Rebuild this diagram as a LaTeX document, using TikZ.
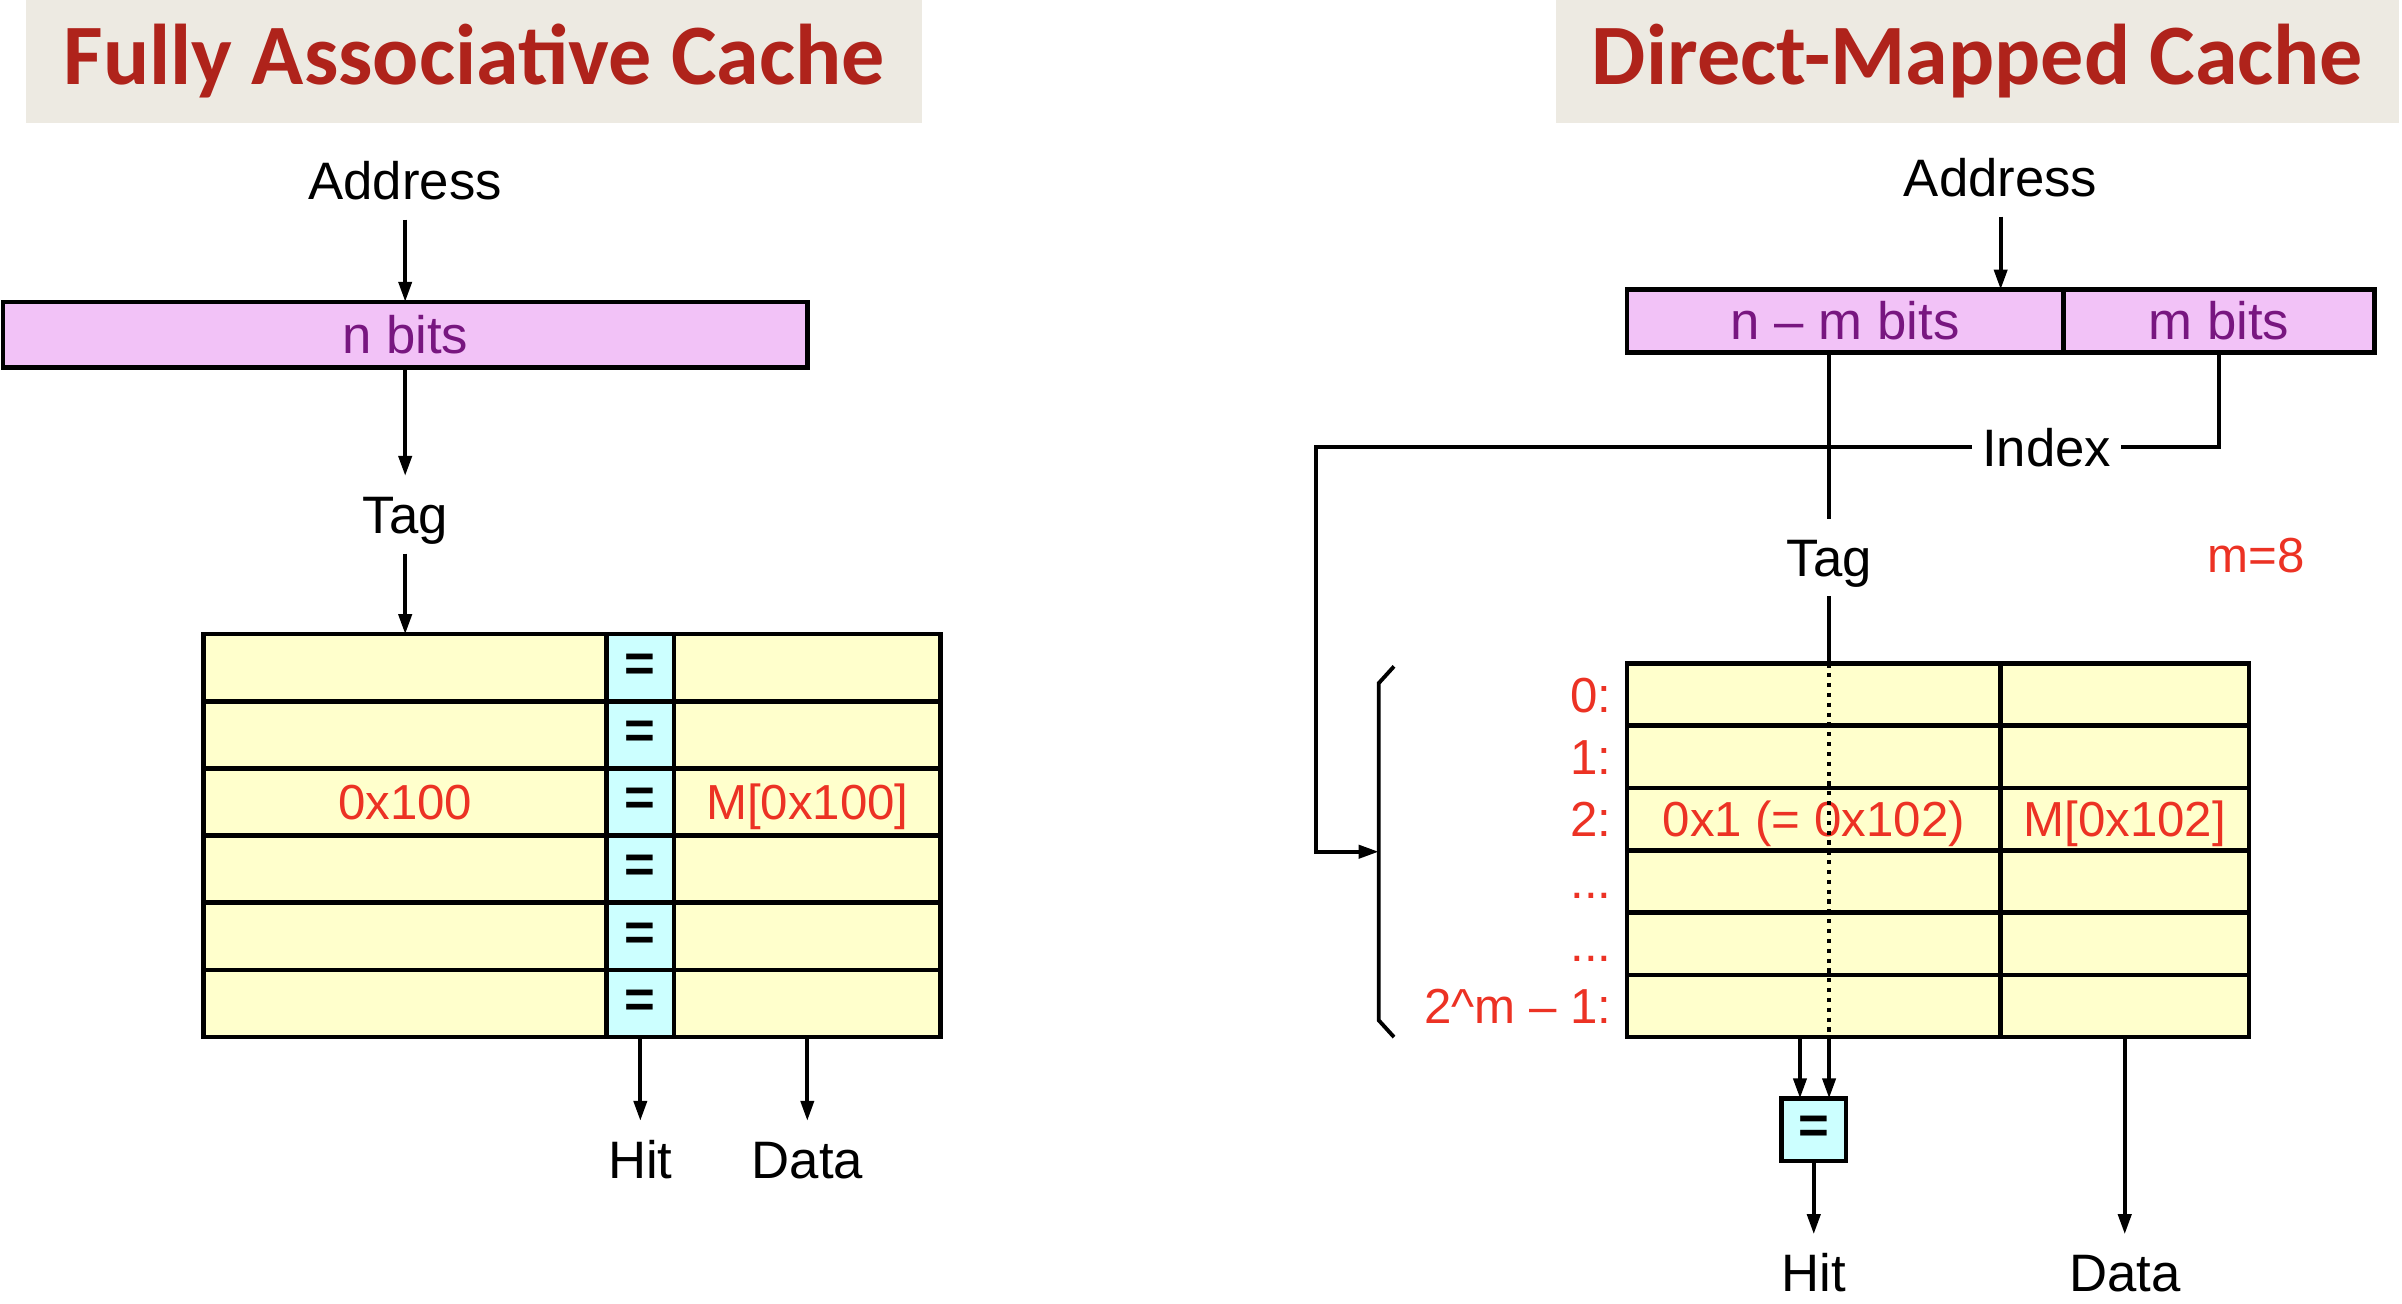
\documentclass[tikz,border=0pt]{standalone}
\usepackage{fontspec}
\setmainfont{Liberation Sans}
\newfontfamily\titlefont{Carlito}
\usepackage{tikz}
\usetikzlibrary{arrows.meta}

\definecolor{titlebg}{RGB}{237,234,226}
\definecolor{titlered}{RGB}{175,35,27}
\definecolor{fieldpink}{RGB}{242,194,247}
\definecolor{fieldtext}{RGB}{120,22,128}
\definecolor{lineyellow}{RGB}{255,255,204}
\definecolor{cmpcyan}{RGB}{204,255,255}
\definecolor{valred}{RGB}{236,50,36}
\def\pxu{0.1532mm}
\def\rowdots{...}

\begin{document}
\begin{tikzpicture}[x=0.1532mm, y=-0.1532mm,
  every node/.style={font=\fontsize{15}{18}\selectfont, inner sep=0pt, outer sep=0pt},
  lbl/.style={text height=10.7pt, text depth=0pt, inner sep=2mm},
  headbox/.style={fill=titlebg, text=titlered, font=\titlefont\bfseries\fontsize{24.5}{28}\selectfont, minimum height=80*\pxu, anchor=north west},
  field/.style={draw, line width=1.3pt, fill=fieldpink, text=fieldtext, text height=10.7pt, text depth=0pt},
  cell/.style={draw, line width=1.3pt, fill=lineyellow, anchor=north west},
  eqcell/.style={cell, fill=cmpcyan},
  valtext/.style={text=valred, font=\fontsize{14}{17}\selectfont, text height=10pt, text depth=0pt},
  arr/.style={-{Triangle[length=2mm,width=1.3mm]}, line width=1.1pt},
  wire/.style={line width=1.1pt}]

  % Page frame
  \useasboundingbox (0,0) rectangle (1568,851);

  % Titles
  \node[headbox, minimum width=585*\pxu] (ttlfa) at (17,0) {Fully Associative Cache};
  \node[headbox, minimum width=550*\pxu] (ttldm) at (1016,0) {Direct-Mapped Cache};

  %% Fully associative cache
  \node[lbl] (addrfa) at (264.5,118) {Address};
  \node[field, minimum width=525*\pxu, minimum height=43*\pxu] (nbits) at (264.5,218.5) {n bits};
  \node[lbl] (tagfa) at (264.5,336) {Tag};

  % cache lines: tag | = | data
  \foreach \i in {1,...,6} {
    \node[cell, minimum width=263*\pxu, minimum height=43.83*\pxu] (fatag\i) at (133,{414+43.83*(\i-1)}) {};
    \node[eqcell, minimum width=44*\pxu, minimum height=43.83*\pxu] (faeq\i) at (396,{414+43.83*(\i-1)}) {\textbf{=}};
    \node[cell, minimum width=174*\pxu, minimum height=43.83*\pxu] (fadat\i) at (440,{414+43.83*(\i-1)}) {};
  }
  \node[valtext] (faval) at (fatag3) {0x100};
  \node[valtext] (famem) at (fadat3) {M[0x100]};

  \node[lbl] (hitfa) at (418,757) {Hit};
  \node[lbl] (datafa) at (527,757) {Data};

  % wiring
  \draw[arr] (addrfa.south) -- (nbits.north);
  \draw[arr] (nbits.south) -- (tagfa.north);
  \draw[arr] (tagfa.south) -- (fatag1.north);
  \draw[arr] (faeq6.south) -- (hitfa.north);
  \draw[arr] (fadat6.south) -- (datafa.north);

  %% Direct-mapped cache
  \node[lbl] (addrdm) at (1306,116) {Address};
  \node[field, minimum width=285*\pxu, minimum height=41*\pxu] (nmbits) at (1204.5,209.5) {n – m bits};
  \node[field, minimum width=203*\pxu, minimum height=41*\pxu] (mbits) at (1448.5,209.5) {m bits};
  \node[lbl, inner xsep=1mm] (idx) at (1336,292) {Index};
  \node[lbl] (tagdm) at (1194,364) {Tag};
  \node[valtext] (mval) at (1473,362) {m=8};

  % cache lines: tag | data, with line numbers
  \foreach \i/\lab in {1/0:, 2/1:, 3/2:, 4/\rowdots, 5/\rowdots, 6/2\textasciicircum m – 1:} {
    \node[cell, minimum width=244*\pxu, minimum height=40.67*\pxu] (dmtag\i) at (1062,{433+40.67*(\i-1)}) {};
    \node[cell, minimum width=162*\pxu, minimum height=40.67*\pxu] (dmdat\i) at (1306,{433+40.67*(\i-1)}) {};
    \node[valtext, anchor=east] (dmrow\i) at ([xshift=-10*\pxu]dmtag\i.west) {\lab};
  }
  \node[valtext] (dmval) at (dmtag3) {0x1 (= 0x102)};
  \node[valtext] (dmmem) at (dmdat3) {M[0x102]};

  % brace over the line numbers
  \draw[wire] (910,435) -- (900,446) -- (900,666) -- (910,677);
  \coordinate (bracemid) at (900,556);
  \coordinate (idxturn) at (859,292);

  % comparator
  \node[eqcell, anchor=center, minimum width=42*\pxu, minimum height=41*\pxu] (cmp) at (1184,737.5) {\textbf{=}};
  \node[lbl] (hitdm) at (1184,831) {Hit};
  \node[lbl] (datadm) at (1387,831) {Data};

  % wiring
  \draw[arr] (addrdm.south) -- (addrdm.south |- nmbits.north);
  \draw[wire] (nmbits.south -| tagdm) -- (tagdm.north);
  \draw[wire] (mbits.south) |- (idx.east);
  \draw[arr] (idx.west) -- (idxturn) |- (bracemid);
  \draw[wire] (tagdm.south) -- (dmtag1.north -| tagdm);
  \draw[wire, dash pattern=on 1.2pt off 1.6pt] (dmtag1.north -| tagdm) -- (dmtag6.south -| tagdm);
  \draw[arr] ([xshift=-9*\pxu]dmtag6.south) -- ([xshift=-9*\pxu]cmp.north);
  \draw[arr] (dmtag6.south -| tagdm) -- (cmp.north -| tagdm);
  \draw[arr] (cmp.south) -- (hitdm.north);
  \draw[arr] (dmdat6.south) -- (datadm.north);
\end{tikzpicture}
\end{document}
